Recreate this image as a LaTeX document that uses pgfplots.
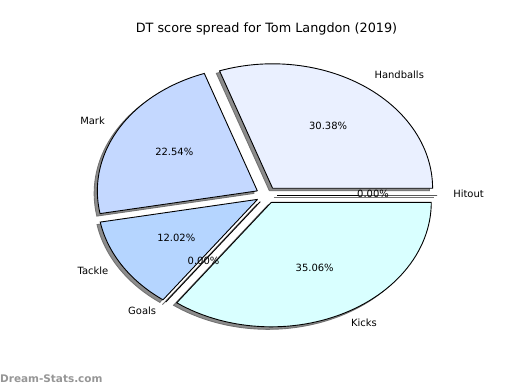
\documentclass[border=0pt]{standalone}
\usepackage{pgfplots}
\pgfplotsset{compat=1.18}
\usepackage{fontspec}
\setmainfont{DejaVu Sans}
\definecolor{cHand}{RGB}{234,240,255}
\definecolor{cMark}{RGB}{196,216,255}
\definecolor{cTack}{RGB}{181,213,255}
\definecolor{cKick}{RGB}{217,255,255}
\definecolor{cShadow}{RGB}{140,140,140}
\definecolor{cShadowE}{RGB}{115,115,115}
\definecolor{cWater}{RGB}{150,150,150}
% pie geometry in pixel units
\def\cx{266.5}\def\cy{195}\def\rx{160}\def\ry{124.5}\def\ex{0.066}
% data (percent)
\def\vHand{30.38}\def\vMark{22.54}\def\vTack{12.02}\def\vGoal{0.00}\def\vKick{35.06}\def\vHit{0.00}
\pgfmathsetmacro\aA{0}
\pgfmathsetmacro\aB{\aA+3.6*\vHand}
\pgfmathsetmacro\aC{\aB+3.6*\vMark}
\pgfmathsetmacro\aD{\aC+3.6*\vTack}
\pgfmathsetmacro\aE{\aD+3.6*\vGoal}
\pgfmathsetmacro\aF{\aE+3.6*\vKick}
\pgfmathsetmacro\aG{\aF+3.6*\vHit}
% wedge: #1 a0, #2 a1, #3 style, #4 dx, #5 dy
\newcommand\pieWedge[5]{%
\addplot[#3, mark=none, line join=miter, domain=-1:61, samples=63, variable=\t]
 ({\cx + #4 + \ex*\rx*cos((#1+#2)/2) + \rx*(\t>-0.5)*(\t<60.5)*cos(#1+(#2-#1)*\t/60)},
  {\cy + #5 + \ex*\ry*sin((#1+#2)/2) + \ry*(\t>-0.5)*(\t<60.5)*sin(#1+(#2-#1)*\t/60)});
}
% label: #1 a0, #2 a1, #3 distance, #4 anchor, #5 text
\newcommand\pieLabel[5]{%
\pgfmathsetmacro\lx{\cx+(\ex+#3)*\rx*cos((#1+#2)/2)}%
\pgfmathsetmacro\ly{\cy+(\ex+#3)*\ry*sin((#1+#2)/2)}%
\edef\temp{\noexpand\node[anchor=#4, inner sep=0pt] at (axis cs:\lx,\ly) {\noexpand\strut #5};}%
\temp
}
\begin{document}
\begin{tikzpicture}
\begin{axis}[hide axis, scale only axis, width=520bp, height=390bp,
  xmin=0, xmax=520, ymin=0, ymax=390, clip=false,
  every node/.style={font=\fontsize{10.6}{12.7}\selectfont}]
\path (rel axis cs:0,0) rectangle (rel axis cs:1,1);
% shadows
\pieWedge{\aA}{\aB}{fill=cShadow, draw=cShadowE, line width=0.9bp}{-3.2}{-2.5}
\pieWedge{\aB}{\aC}{fill=cShadow, draw=cShadowE, line width=0.9bp}{-3.2}{-2.5}
\pieWedge{\aC}{\aD}{fill=cShadow, draw=cShadowE, line width=0.9bp}{-3.2}{-2.5}
\pieWedge{\aD}{\aE}{fill=cShadow, draw=cShadowE, line width=0.9bp}{-3.2}{-2.5}
\pieWedge{\aE}{\aF}{fill=cShadow, draw=cShadowE, line width=0.9bp}{-3.2}{-2.5}
\pieWedge{\aF}{\aG}{fill=cShadow, draw=cShadowE, line width=0.9bp}{-3.2}{-2.5}
% wedges
\pieWedge{\aA}{\aB}{fill=cHand, draw=black, line width=0.9bp}{0}{0}
\pieWedge{\aB}{\aC}{fill=cMark, draw=black, line width=0.9bp}{0}{0}
\pieWedge{\aC}{\aD}{fill=cTack, draw=black, line width=0.9bp}{0}{0}
\pieWedge{\aD}{\aE}{fill=white, draw=black, line width=0.9bp}{0}{0}
\pieWedge{\aE}{\aF}{fill=cKick, draw=black, line width=0.9bp}{0}{0}
\pieWedge{\aF}{\aG}{fill=white, draw=black, line width=0.9bp}{0}{0}
% labels
\pieLabel{\aA}{\aB}{1.1}{west}{Handballs}
\pieLabel{\aB}{\aC}{1.1}{east}{Mark}
\pieLabel{\aC}{\aD}{1.1}{east}{Tackle}
\pieLabel{\aD}{\aE}{1.1}{east}{Goals}
\pieLabel{\aE}{\aF}{1.1}{west}{Kicks}
\pieLabel{\aF}{\aG}{1.1}{west}{Hitout}
\pieLabel{\aA}{\aB}{0.6}{center}{30.38\%}
\pieLabel{\aB}{\aC}{0.6}{center}{22.54\%}
\pieLabel{\aC}{\aD}{0.6}{center}{12.02\%}
\pieLabel{\aD}{\aE}{0.6}{center}{0.00\%}
\pieLabel{\aE}{\aF}{0.6}{center}{35.06\%}
\pieLabel{\aF}{\aG}{0.6}{center}{0.00\%}
\node[font=\fontsize{12.84}{15}\selectfont, anchor=center, inner sep=0pt] at (axis cs:266.5,360) {\strut DT score spread for Tom Langdon (2019)};
\node[font=\fontsize{10.5}{12}\selectfont\bfseries, text=cWater, anchor=west, inner sep=0pt] at (axis cs:0,10) {\strut Dream-Stats.com};
\end{axis}
\end{tikzpicture}
\end{document}
